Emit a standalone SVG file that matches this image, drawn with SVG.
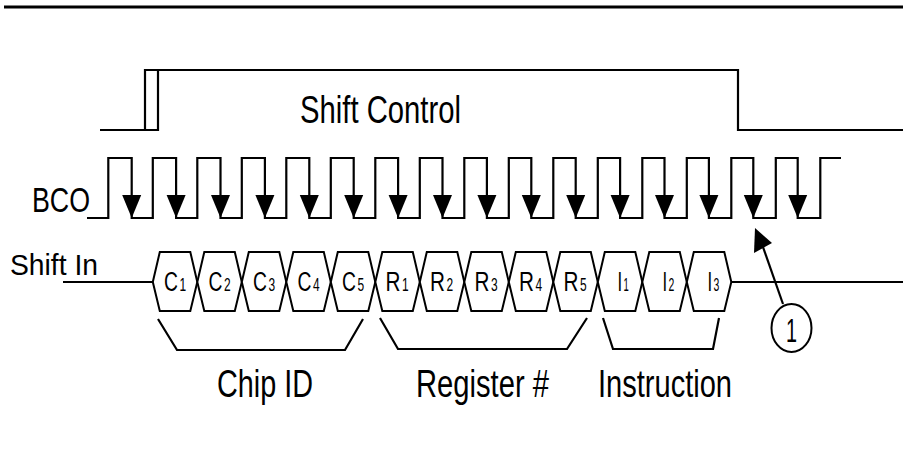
<svg xmlns="http://www.w3.org/2000/svg" xmlns:xlink="http://www.w3.org/1999/xlink" width="903" height="453" viewBox="0 0 903 453">
<style>
.w{fill:none;stroke:#000;stroke-width:2.2;stroke-linejoin:miter}
.t{font-family:"Liberation Sans",Arial,sans-serif;fill:#000}
.hex{fill:#fff;stroke:#000;stroke-width:2;stroke-linejoin:miter}
.lbl{font-family:"Liberation Sans",Arial,sans-serif;font-size:28px;fill:#000}
.sub{font-family:"Liberation Sans",Arial,sans-serif;font-size:19px;fill:#000}
.ah{fill:#000}
</style>
<defs>
<path id="ah" d="M-9.5,-23 L9.5,-23 L0,0 Z"/>
</defs>
<rect width="903" height="453" fill="#fff"/>
<line x1="4" y1="7" x2="903" y2="7" stroke="#000" stroke-width="3"/>

<g id="shift-control">
<path class="w" d="M100,130 H158 V70 M145,130 V70 H738 V130 H903"/>
<text class="t" x="300" y="123" font-size="38" textLength="161" lengthAdjust="spacingAndGlyphs">Shift Control</text>
</g>

<g id="bco">
<text class="t" x="32" y="212" font-size="35" textLength="58" lengthAdjust="spacingAndGlyphs">BCO</text>
<path class="w" d="M87,218 H108.3 V158 H131.7 V218 H152.8 V158 H176.1 V218 H197.3 V158 H220.5 V218 H241.8 V158 H264.9 V218 H286.3 V158 H309.3 V218 H330.8 V158 H353.7 V218 H375.3 V158 H398.1 V218 H419.8 V158 H442.5 V218 H464.3 V158 H486.9 V218 H508.8 V158 H531.3 V218 H553.3 V158 H575.7 V218 H597.8 V158 H620.1 V218 H642.3 V158 H664.5 V218 H686.8 V158 H708.9 V218 H731.3 V158 H753.3 V218 H775.8 V158 H797.7 V218 H820.3 V158 H841"/>
<g class="ah">
<use xlink:href="#ah" x="131.7" y="218"/>
<use xlink:href="#ah" x="176.1" y="218"/>
<use xlink:href="#ah" x="220.5" y="218"/>
<use xlink:href="#ah" x="264.9" y="218"/>
<use xlink:href="#ah" x="309.3" y="218"/>
<use xlink:href="#ah" x="353.7" y="218"/>
<use xlink:href="#ah" x="398.1" y="218"/>
<use xlink:href="#ah" x="442.5" y="218"/>
<use xlink:href="#ah" x="486.9" y="218"/>
<use xlink:href="#ah" x="531.3" y="218"/>
<use xlink:href="#ah" x="575.7" y="218"/>
<use xlink:href="#ah" x="620.1" y="218"/>
<use xlink:href="#ah" x="664.5" y="218"/>
<use xlink:href="#ah" x="708.9" y="218"/>
<use xlink:href="#ah" x="753.3" y="218"/>
<use xlink:href="#ah" x="797.7" y="218"/>
</g>
</g>

<g id="shift-in">
<text class="t" x="10" y="275" font-size="30" textLength="88" lengthAdjust="spacingAndGlyphs">Shift In</text>
<path class="w" d="M63,282 H152.8 M731.3,282 H903"/>
</g>

<g id="cell-C1"><polygon class="hex" points="152.8,282 159.8,252 190.3,252 197.3,282 190.3,311 159.8,311"/><text class="lbl" transform="translate(164,290.5) scale(0.69,1)">C</text><text class="sub" transform="translate(179.5,291) scale(0.63,1)">1</text></g>
<g id="cell-C2"><polygon class="hex" points="197.3,282 204.3,252 234.8,252 241.8,282 234.8,311 204.3,311"/><text class="lbl" transform="translate(208.5,290.5) scale(0.69,1)">C</text><text class="sub" transform="translate(224,291) scale(0.63,1)">2</text></g>
<g id="cell-C3"><polygon class="hex" points="241.8,282 248.8,252 279.3,252 286.3,282 279.3,311 248.8,311"/><text class="lbl" transform="translate(253,290.5) scale(0.69,1)">C</text><text class="sub" transform="translate(268.5,291) scale(0.63,1)">3</text></g>
<g id="cell-C4"><polygon class="hex" points="286.3,282 293.3,252 323.8,252 330.8,282 323.8,311 293.3,311"/><text class="lbl" transform="translate(297.5,290.5) scale(0.69,1)">C</text><text class="sub" transform="translate(313,291) scale(0.63,1)">4</text></g>
<g id="cell-C5"><polygon class="hex" points="330.8,282 337.8,252 368.3,252 375.3,282 368.3,311 337.8,311"/><text class="lbl" transform="translate(342,290.5) scale(0.69,1)">C</text><text class="sub" transform="translate(357.5,291) scale(0.63,1)">5</text></g>
<g id="cell-R1"><polygon class="hex" points="375.3,282 382.3,252 412.8,252 419.8,282 412.8,311 382.3,311"/><text class="lbl" transform="translate(385.5,290.5) scale(0.74,1)">R</text><text class="sub" transform="translate(402,291) scale(0.63,1)">1</text></g>
<g id="cell-R2"><polygon class="hex" points="419.8,282 426.8,252 457.3,252 464.3,282 457.3,311 426.8,311"/><text class="lbl" transform="translate(430,290.5) scale(0.74,1)">R</text><text class="sub" transform="translate(446.5,291) scale(0.63,1)">2</text></g>
<g id="cell-R3"><polygon class="hex" points="464.3,282 471.3,252 501.8,252 508.8,282 501.8,311 471.3,311"/><text class="lbl" transform="translate(474.5,290.5) scale(0.74,1)">R</text><text class="sub" transform="translate(491,291) scale(0.63,1)">3</text></g>
<g id="cell-R4"><polygon class="hex" points="508.8,282 515.8,252 546.3,252 553.3,282 546.3,311 515.8,311"/><text class="lbl" transform="translate(519,290.5) scale(0.74,1)">R</text><text class="sub" transform="translate(535.5,291) scale(0.63,1)">4</text></g>
<g id="cell-R5"><polygon class="hex" points="553.3,282 560.3,252 590.8,252 597.8,282 590.8,311 560.3,311"/><text class="lbl" transform="translate(563.5,290.5) scale(0.74,1)">R</text><text class="sub" transform="translate(580,291) scale(0.63,1)">5</text></g>
<g id="cell-I1"><polygon class="hex" points="597.8,282 604.8,252 635.3,252 642.3,282 635.3,311 604.8,311"/><text class="lbl" transform="translate(617.5,290.5) scale(0.6,1)">I</text><text class="sub" transform="translate(623.5,291) scale(0.5,1)">1</text></g>
<g id="cell-I2"><polygon class="hex" points="642.3,282 649.3,252 679.8,252 686.8,282 679.8,311 649.3,311"/><text class="lbl" transform="translate(662.5,290.5) scale(0.6,1)">I</text><text class="sub" transform="translate(668.5,291) scale(0.55,1)">2</text></g>
<g id="cell-I3"><polygon class="hex" points="686.8,282 693.8,252 724.3,252 731.3,282 724.3,311 693.8,311"/><text class="lbl" transform="translate(707.5,290.5) scale(0.6,1)">I</text><text class="sub" transform="translate(713.5,291) scale(0.55,1)">3</text></g>

<g id="bracket-chip-id">
<path class="w" d="M158,319 L177,350 H345 L363,319"/>
<text class="t" x="217" y="397" font-size="39" textLength="96" lengthAdjust="spacingAndGlyphs">Chip ID</text>
</g>
<g id="bracket-register">
<path class="w" d="M380,318 L398,349 H567 L587,318"/>
<text class="t" x="416" y="397" font-size="39" textLength="133" lengthAdjust="spacingAndGlyphs">Register #</text>
</g>
<g id="bracket-instruction">
<path class="w" d="M603,318 L613,349 H713 L719,318"/>
<text class="t" x="598" y="397" font-size="39" textLength="134" lengthAdjust="spacingAndGlyphs">Instruction</text>
</g>

<g id="callout-1">
<ellipse cx="791.5" cy="328" rx="20" ry="24" fill="#fff" stroke="#000" stroke-width="2"/>
<text class="t" x="791.5" y="342" font-size="33" text-anchor="middle" textLength="11" lengthAdjust="spacingAndGlyphs">1</text>
</g>

<g id="connectors">
<line class="w" x1="783" y1="304" x2="763" y2="247"/>
<polygon class="ah" points="755,228 754,253 772,243"/>
</g>
</svg>
